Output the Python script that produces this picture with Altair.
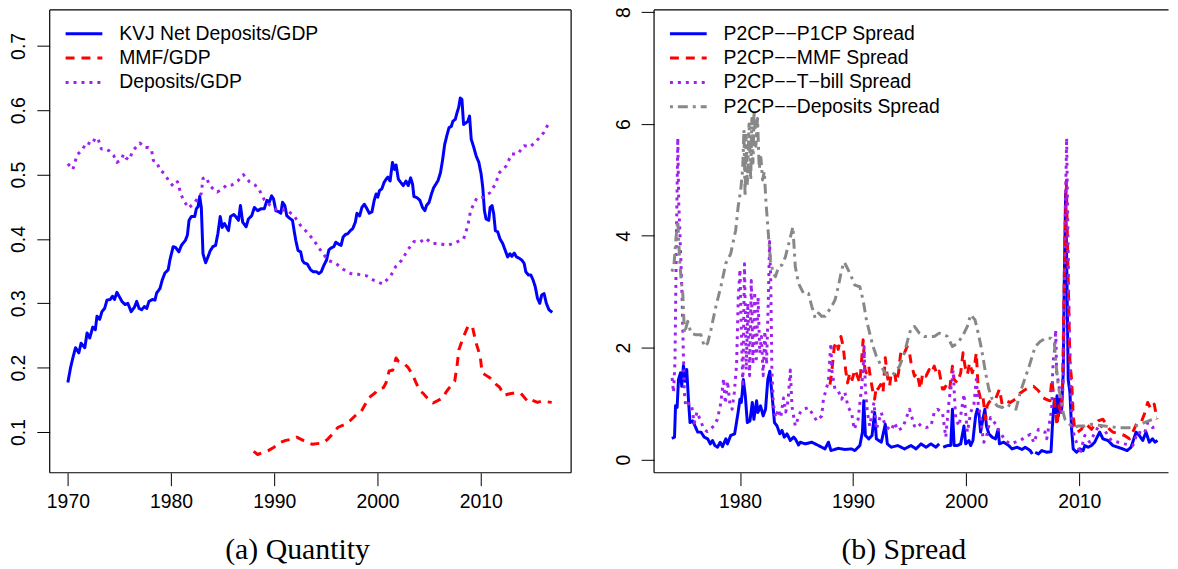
import altair as alt
import pandas as pd

# ---------------- Panel (a): Quantity ----------------
A_NAMES = ["KVJ Net Deposits/GDP", "MMF/GDP", "Deposits/GDP"]

kvj_year = [1970.0, 1970.26, 1970.48, 1970.74, 1971.06, 1971.28, 1971.64, 1971.86, 1972.12, 1972.41, 1972.66, 1972.82,
            1973.08, 1973.3, 1973.56, 1973.79, 1974.1, 1974.33, 1974.52, 1974.75, 1975.07, 1975.23, 1975.55, 1975.81,
            1976.13, 1976.45, 1976.67, 1976.9, 1977.15, 1977.41, 1977.64, 1977.86, 1978.18, 1978.44, 1978.6, 1978.92,
            1979.14, 1979.4, 1979.72, 1979.88, 1980.2, 1980.43, 1980.75, 1981.0, 1981.39, 1981.58, 1981.74, 1981.97,
            1982.29, 1982.45, 1982.61, 1982.77, 1982.93, 1983.09, 1983.35, 1983.57, 1983.8, 1984.05, 1984.31, 1984.53,
            1984.76, 1984.95, 1985.17, 1985.56, 1985.76, 1986.08, 1986.3, 1986.53, 1986.72, 1986.94, 1987.27, 1987.49,
            1987.81, 1988.07, 1988.39, 1988.71, 1989.03, 1989.29, 1989.51, 1989.74, 1989.93, 1990.15, 1990.47, 1990.63,
            1990.8, 1991.02, 1991.21, 1991.5, 1991.76, 1991.92, 1992.08, 1992.3, 1992.56, 1992.72, 1992.88, 1993.2,
            1993.52, 1993.78, 1994.1, 1994.32, 1994.55, 1994.8, 1995.06, 1995.29, 1995.51, 1995.77, 1995.96, 1996.22,
            1996.47, 1996.67, 1996.89, 1997.11, 1997.37, 1997.6, 1997.85, 1998.01, 1998.27, 1998.49, 1998.72, 1998.98,
            1999.2, 1999.46, 1999.68, 1999.87, 2000.03, 2000.19, 2000.42, 2000.64, 2000.84, 2001.0, 2001.22, 2001.45,
            2001.64, 2001.8, 2002.02, 2002.25, 2002.5, 2002.76, 2002.98, 2003.21, 2003.4, 2003.53, 2003.85, 2004.11,
            2004.36, 2004.59, 2004.75, 2005.0, 2005.23, 2005.45, 2005.65, 2005.87, 2006.1, 2006.29, 2006.51, 2006.74,
            2006.93, 2007.15, 2007.31, 2007.54, 2007.7, 2007.86, 2008.02, 2008.18, 2008.34, 2008.53, 2008.76, 2008.92,
            2009.08, 2009.3, 2009.56, 2009.82, 2010.04, 2010.2, 2010.36, 2010.52, 2010.78, 2010.91, 2011.1, 2011.26,
            2011.42, 2011.65, 2011.87, 2012.13, 2012.38, 2012.61, 2012.83, 2013.02, 2013.25, 2013.47, 2013.73, 2013.99,
            2014.21, 2014.37, 2014.63, 2014.86, 2015.08, 2015.28, 2015.5, 2015.72, 2015.91, 2016.14, 2016.36, 2016.61,
            2016.93]
kvj_val = [0.177, 0.2, 0.215, 0.231, 0.223, 0.238, 0.231, 0.254, 0.246, 0.263, 0.259, 0.28,
           0.275, 0.287, 0.292, 0.305, 0.306, 0.311, 0.306, 0.317, 0.308, 0.303, 0.298, 0.3,
           0.287, 0.294, 0.303, 0.292, 0.29, 0.295, 0.292, 0.303, 0.306, 0.305, 0.316, 0.323,
           0.336, 0.347, 0.352, 0.367, 0.388, 0.387, 0.38, 0.39, 0.398, 0.406, 0.429, 0.435,
           0.435, 0.447, 0.45, 0.466, 0.449, 0.377, 0.363, 0.372, 0.382, 0.388, 0.39, 0.408,
           0.435, 0.418, 0.424, 0.413, 0.435, 0.438, 0.434, 0.429, 0.452, 0.426, 0.419, 0.431,
           0.436, 0.449, 0.444, 0.447, 0.447, 0.46, 0.457, 0.467, 0.462, 0.444, 0.442, 0.44,
           0.457, 0.452, 0.436, 0.432, 0.429, 0.413, 0.398, 0.382, 0.38, 0.367, 0.363, 0.361,
           0.352, 0.349, 0.349, 0.346, 0.349, 0.359, 0.367, 0.383, 0.386, 0.388, 0.395, 0.392,
           0.39, 0.403, 0.407, 0.408, 0.413, 0.416, 0.426, 0.44, 0.436, 0.449, 0.454, 0.447,
           0.44, 0.442, 0.46, 0.47, 0.465, 0.475, 0.478, 0.488, 0.493, 0.496, 0.49, 0.519,
           0.508, 0.515, 0.493, 0.488, 0.483, 0.49, 0.483, 0.495, 0.485, 0.466, 0.464, 0.46,
           0.449, 0.444, 0.452, 0.457, 0.47, 0.48, 0.485, 0.491, 0.503, 0.521, 0.547, 0.562,
           0.573, 0.575, 0.583, 0.586, 0.596, 0.604, 0.619, 0.617, 0.578, 0.58, 0.583, 0.591,
           0.555, 0.544, 0.529, 0.519, 0.501, 0.48, 0.444, 0.431, 0.429, 0.449, 0.452, 0.439,
           0.413, 0.411, 0.4, 0.393, 0.382, 0.372, 0.377, 0.373, 0.378, 0.372, 0.37, 0.367,
           0.362, 0.349, 0.344, 0.344, 0.336, 0.326, 0.308, 0.3, 0.313, 0.315, 0.3, 0.29,
           0.286]

mmf_year = [1988.0, 1988.39, 1989.41, 1989.93, 1990.63, 1991.12, 1991.76, 1992.17, 1993.14, 1993.68, 1994.74,
            1995.19, 1995.93, 1996.15, 1996.99, 1997.31, 1998.01, 1998.4, 1998.91, 1999.14, 1999.78, 2000.0,
            2000.58, 2000.84, 2001.13, 2001.48, 2001.8, 2002.02, 2002.66, 2002.98, 2003.46, 2003.72, 2004.11,
            2004.43, 2005.07, 2005.39, 2006.35, 2006.61, 2007.15, 2007.48, 2007.7, 2007.89, 2008.28, 2008.76,
            2009.18, 2009.4, 2009.56, 2009.95, 2010.14, 2010.52, 2010.91, 2011.49, 2011.81, 2012.29, 2012.7,
            2013.41, 2013.89, 2014.53, 2014.76, 2015.5, 2015.91, 2016.88]
mmf_val = [0.07, 0.065, 0.071, 0.076, 0.084, 0.087, 0.089, 0.092, 0.084, 0.081, 0.083,
           0.089, 0.102, 0.107, 0.113, 0.117, 0.128, 0.131, 0.146, 0.153, 0.161, 0.166,
           0.169, 0.177, 0.195, 0.196, 0.215, 0.21, 0.205, 0.2, 0.187, 0.177, 0.164,
           0.16, 0.148, 0.145, 0.153, 0.161, 0.173, 0.179, 0.202, 0.228, 0.246, 0.264,
           0.265, 0.249, 0.238, 0.218, 0.192, 0.188, 0.184, 0.174, 0.17, 0.157, 0.159,
           0.161, 0.16, 0.148, 0.151, 0.146, 0.148, 0.146]

dep_year = [1970.0, 1970.48, 1970.9, 1971.38, 1971.8, 1972.34, 1972.66, 1972.92, 1973.24, 1973.63, 1974.01, 1974.43,
            1974.75, 1975.17, 1975.39, 1975.61, 1975.94, 1976.29, 1976.67, 1976.99, 1977.41, 1977.8, 1978.12, 1978.28,
            1978.6, 1978.92, 1979.34, 1979.72, 1980.2, 1980.62, 1980.88, 1981.16, 1981.71, 1982.35, 1982.93, 1983.09,
            1983.41, 1983.73, 1984.08, 1984.47, 1984.92, 1985.4, 1985.89, 1986.46, 1987.01, 1987.59, 1988.13, 1988.55,
            1989.03, 1989.61, 1990.25, 1991.21, 1991.92, 1992.49, 1993.2, 1993.78, 1994.42, 1995.19, 1995.96, 1996.67,
            1997.44, 1998.17, 1998.91, 1999.71, 2000.52, 2001.29, 2001.8, 2002.34, 2002.98, 2003.53, 2004.11, 2004.65,
            2005.29, 2005.94, 2006.77, 2007.64, 2008.34, 2008.76, 2009.02, 2009.63, 2010.27, 2010.91, 2011.49, 2011.74,
            2012.45, 2013.0, 2013.57, 2014.21, 2014.76, 2015.33, 2016.14, 2016.62]
dep_val = [0.517, 0.508, 0.531, 0.538, 0.55, 0.547, 0.557, 0.556, 0.54, 0.54, 0.537, 0.53,
           0.519, 0.523, 0.532, 0.526, 0.523, 0.537, 0.544, 0.549, 0.542, 0.542, 0.537, 0.522,
           0.52, 0.507, 0.502, 0.492, 0.482, 0.489, 0.474, 0.461, 0.448, 0.458, 0.471, 0.494,
           0.496, 0.483, 0.478, 0.473, 0.477, 0.484, 0.484, 0.49, 0.5, 0.489, 0.484, 0.476,
           0.461, 0.452, 0.445, 0.445, 0.436, 0.422, 0.41, 0.399, 0.384, 0.367, 0.362, 0.353,
           0.346, 0.345, 0.343, 0.335, 0.33, 0.343, 0.358, 0.367, 0.384, 0.396, 0.395, 0.401,
           0.393, 0.393, 0.39, 0.395, 0.4, 0.421, 0.444, 0.464, 0.465, 0.472, 0.487, 0.502,
           0.513, 0.532, 0.532, 0.545, 0.543, 0.551, 0.566, 0.581]

# ---------------- Panel (b): Spread ----------------
B_NAMES = ["P2CP\u2212\u2212P1CP Spread", "P2CP\u2212\u2212MMF Spread",
           "P2CP\u2212\u2212T\u2212bill Spread", "P2CP\u2212\u2212Deposits Spread"]

p1cp_year = [1973.97, 1974.21, 1974.3, 1974.44, 1974.56, 1974.74, 1974.85, 1975.0, 1975.15, 1975.29, 1975.44, 1975.58,
             1975.82, 1975.96, 1976.26, 1976.55, 1976.84, 1977.14, 1977.37, 1977.57, 1977.78, 1978.01, 1978.25, 1978.45,
             1978.75, 1978.89, 1979.18, 1979.53, 1979.83, 1980.0, 1980.12, 1980.3, 1980.47, 1980.65, 1980.88, 1981.09,
             1981.23, 1981.47, 1981.58, 1981.82, 1982.05, 1982.26, 1982.46, 1982.64, 1982.84, 1983.05, 1983.28, 1983.52,
             1983.72, 1983.92, 1984.16, 1984.45, 1984.74, 1984.89, 1985.18, 1985.33, 1985.77, 1986.35, 1986.94, 1987.52,
             1987.82, 1988.05, 1988.69, 1989.28, 1989.87, 1990.16, 1990.6, 1990.83, 1990.95, 1991.09, 1991.39, 1991.68,
             1991.91, 1992.06, 1992.5, 1992.85, 1993.03, 1993.38, 1993.96, 1994.55, 1995.13, 1995.57, 1996.01, 1996.45,
             1996.89, 1997.33, 1997.62,
             1997.97, 1998.35, 1998.64, 1998.79, 1998.94, 1999.23, 1999.52, 1999.81, 1999.96, 2000.25, 2000.4, 2000.6,
             2000.84, 2000.99, 2001.13, 2001.28, 2001.48, 2001.66, 2001.8, 2002.01, 2002.3, 2002.6, 2002.83, 2002.95,
             2003.33, 2003.77, 2004.06, 2004.5, 2004.94, 2005.23, 2005.67, 2005.85,
             2006.11, 2006.4, 2006.69, 2007.13, 2007.51, 2007.63, 2007.8, 2007.92, 2008.04, 2008.16, 2008.3, 2008.45,
             2008.59, 2008.68, 2008.8, 2008.92, 2009.03, 2009.18, 2009.33, 2009.47, 2009.77, 2010.06, 2010.35, 2010.5,
             2010.79, 2011.08, 2011.37, 2011.81, 2012.1, 2012.54, 2012.98, 2013.42, 2013.86, 2014.24, 2014.59, 2015.03,
             2015.32, 2015.62, 2015.91, 2016.2, 2016.49, 2016.7, 2016.93]
p1cp_val = [0.38, 0.4, 0.96, 0.93, 1.43, 1.55, 1.31, 1.68, 1.4, 1.61, 1.08, 0.66,
            0.69, 0.63, 0.49, 0.49, 0.4, 0.37, 0.28, 0.34, 0.25, 0.22, 0.31, 0.23,
            0.37, 0.28, 0.43, 0.46, 0.84, 1.08, 1.02, 1.43, 1.14, 0.66, 0.69, 1.02,
            0.72, 1.05, 0.84, 0.96, 0.78, 0.9, 1.43, 1.58, 1.14, 0.66, 0.6, 0.46,
            0.52, 0.4, 0.46, 0.34, 0.4, 0.37, 0.26, 0.31, 0.28, 0.31, 0.25, 0.19,
            0.31, 0.16, 0.2, 0.18, 0.19, 0.16, 0.25, 0.49, 1.05, 0.43, 0.37, 0.43,
            0.84, 0.37, 0.31, 0.63, 0.28, 0.22, 0.25, 0.19, 0.25, 0.19, 0.28, 0.22,
            0.28, 0.22, 0.28,
            0.22, 0.25, 0.25, 0.9, 0.25, 0.25, 0.28, 0.6, 0.28, 0.34, 0.25, 0.34,
            0.78, 0.9, 0.84, 0.49, 0.72, 0.9, 0.6, 0.46, 0.4, 0.37, 0.54, 0.28,
            0.31, 0.25, 0.19, 0.22, 0.18, 0.22, 0.16, 0.1,
            0.13, 0.1, 0.16, 0.13, 0.14, 0.6, 1.08, 0.84, 1.14, 0.78, 1.08, 0.9,
            1.55, 3.21, 4.75, 3.21, 1.43, 1.2, 0.54, 0.19, 0.13, 0.19, 0.16, 0.25,
            0.22, 0.25, 0.31, 0.49, 0.37, 0.34, 0.25, 0.22, 0.19, 0.16, 0.22, 0.49,
            0.43, 0.34, 0.49, 0.31, 0.37, 0.31, 0.34]
p1cp_breaks = [1997.8, 2006.0]

mmfs_year = [1987.96, 1988.11, 1988.34, 1988.55, 1988.69, 1988.93, 1989.13, 1989.28, 1989.34, 1989.51, 1989.72, 1989.92,
             1990.16, 1990.39, 1990.6, 1990.74, 1990.89, 1991.04, 1991.18, 1991.39, 1991.56, 1991.77, 1991.91, 1992.06,
             1992.21, 1992.44, 1992.65, 1992.85, 1993.03, 1993.23, 1993.38, 1993.67, 1993.82, 1994.02, 1994.2, 1994.31,
             1994.55, 1994.78, 1994.99, 1995.13, 1995.43, 1995.66, 1995.95, 1996.16, 1996.45, 1996.74, 1996.95, 1997.18,
             1997.42, 1997.62, 1997.91, 1998.06, 1998.35, 1998.56, 1998.79, 1998.94, 1999.23, 1999.52, 1999.73, 1999.9,
             2000.11, 2000.31, 2000.55, 2000.78, 2000.9, 2001.07, 2001.28, 2001.48, 2001.72, 2001.86, 2002.01, 2002.3,
             2002.6, 2002.95, 2003.18, 2003.47, 2003.91, 2004.35, 2004.64, 2005.08, 2005.46, 2005.96, 2006.4, 2006.75,
             2007.04, 2007.42, 2007.57, 2007.8, 2007.92, 2008.04, 2008.21, 2008.39, 2008.54, 2008.68, 2008.86, 2009.03,
             2009.18, 2009.33, 2009.47, 2009.62, 2009.85, 2010.2, 2010.5, 2011.08, 2011.67, 2012.1, 2012.69, 2012.98,
             2013.57, 2014.01, 2014.45, 2014.74, 2015.12, 2015.47, 2015.76, 2016.06, 2016.35, 2016.64, 2016.88]
mmfs_val = [1.34, 1.55, 2.02, 2.11, 1.97, 2.2, 2.02, 1.73, 1.61, 1.37, 1.55, 1.43,
            1.61, 1.49, 1.37, 1.73, 2.14, 1.61, 1.55, 1.67, 1.43, 1.2, 1.08, 1.31,
            1.26, 1.34, 1.2, 1.82, 1.49, 1.31, 1.55, 1.55, 1.37, 1.55, 1.88, 1.97,
            1.91, 2.02, 1.91, 1.73, 1.49, 1.55, 1.26, 1.55, 1.49, 1.61, 1.55, 1.67,
            1.52, 1.58, 1.26, 1.26, 1.37, 1.28, 1.67, 1.43, 1.37, 1.55, 1.91, 1.67,
            1.52, 1.73, 1.55, 1.73, 1.91, 1.26, 1.08, 1.14, 0.72, 0.96, 1.02, 1.08,
            1.08, 1.26, 0.99, 1.05, 1.02, 1.08, 1.17, 1.23, 1.28, 1.31, 1.23, 1.11,
            1.08, 1.05, 1.43, 1.08, 0.84, 0.6, 0.96, 0.84, 1.43, 3.21, 4.99, 3.21,
            1.73, 1.43, 0.78, 0.54, 0.49, 0.54, 0.66, 0.54, 0.69, 0.72, 0.54, 0.49,
            0.46, 0.43, 0.37, 0.49, 0.66, 0.66, 0.81, 1.02, 0.9, 0.99, 0.72]

tbill_year = [1974.0, 1974.12, 1974.25, 1974.38, 1974.5, 1974.58, 1974.68, 1974.78, 1974.88, 1974.98, 1975.08, 1975.2,
              1975.45, 1975.7, 1975.95, 1976.2, 1976.5, 1976.8, 1977.1, 1977.4, 1977.7, 1978.0, 1978.3, 1978.55,
              1978.7, 1978.9, 1979.1, 1979.3, 1979.5, 1979.7, 1979.85, 1980.0, 1980.12, 1980.25, 1980.4, 1980.55,
              1980.7, 1980.85, 1981.0, 1981.15, 1981.3, 1981.45, 1981.6, 1981.75, 1981.9, 1982.05, 1982.2, 1982.35,
              1982.5, 1982.62, 1982.72, 1982.82, 1982.95, 1983.15, 1983.4, 1983.6, 1983.85, 1984.05, 1984.25, 1984.45,
              1984.6, 1984.89, 1985.33, 1985.62, 1986.06, 1986.79, 1987.23, 1987.38, 1987.82, 1987.96, 1988.05, 1988.11,
              1988.4, 1988.69, 1988.99, 1989.28, 1989.57, 1989.87, 1990.1, 1990.45, 1990.74, 1990.89, 1990.98, 1991.09,
              1991.27, 1991.47, 1991.85, 1992.06, 1992.5, 1992.85, 1993.38, 1993.67, 1993.96, 1994.4, 1994.99, 1995.43,
              1995.72, 1996.01, 1996.45, 1996.89, 1997.18, 1997.47, 1997.91, 1998.2, 1998.5, 1998.73, 1998.85, 1999.08,
              1999.38, 1999.81, 2000.11, 2000.4, 2000.69, 2000.9, 2001.07, 2001.28, 2001.42, 2001.57, 2001.86, 2002.16,
              2002.74, 2002.89, 2003.47, 2003.91, 2004.35, 2004.79, 2005.23, 2005.67, 2006.0, 2006.4, 2006.98, 2007.13,
              2007.57, 2007.65, 2007.72, 2007.86, 2007.92, 2008.01, 2008.15, 2008.3, 2008.45, 2008.59, 2008.68, 2008.77,
              2008.89, 2008.98, 2009.09, 2009.24, 2009.38, 2009.62, 2009.91, 2010.06, 2010.5, 2010.93, 2011.81, 2012.25,
              2012.84, 2014.01, 2014.74, 2015.18, 2015.76, 2016.06, 2016.49, 2016.79]
tbill_val = [1.46, 1.2, 1.75, 4.0, 5.75, 4.6, 4.1, 3.5, 2.9, 2.0, 1.2, 0.95,
             1.0, 1.0, 0.65, 0.85, 0.7, 0.55, 0.5, 0.55, 0.6, 0.72, 1.0, 1.45,
             1.0, 1.4, 1.0, 0.9, 1.2, 1.7, 2.9, 3.4, 2.3, 1.3, 3.5, 1.6,
             2.8, 1.5, 3.2, 1.7, 3.0, 1.8, 2.9, 1.9, 2.2, 1.5, 2.3, 1.7,
             2.8, 3.9, 3.2, 1.6, 1.0, 0.75, 0.9, 0.75, 1.1, 0.85, 1.05, 1.6,
             0.95, 0.6, 0.84, 0.9, 0.93, 0.69, 0.78, 1.08, 1.4, 1.85, 2.08, 1.61,
             1.26, 1.23, 1.08, 1.2, 0.93, 0.84, 0.54, 0.72, 1.26, 1.61, 2.02, 1.26,
             0.84, 0.6, 1.02, 0.54, 0.84, 0.6, 0.52, 0.66, 0.52, 0.57, 0.9, 0.6,
             0.66, 0.6, 0.57, 0.6, 0.84, 0.9, 0.84, 0.4, 1.08, 1.37, 1.6, 0.72,
             0.6, 1.17, 0.49, 0.84, 0.99, 1.43, 0.99, 0.78, 0.49, 0.31, 0.46, 0.75,
             0.6, 0.52, 0.34, 0.28, 0.31, 0.34, 0.4, 0.45, 0.3, 0.54, 0.49, 0.37,
             0.9, 1.55, 1.79, 2.02, 2.32, 1.55, 1.4, 1.2, 0.84, 1.43, 2.62, 4.39,
             5.75, 4.4, 2.62, 1.43, 0.6, 0.37, 0.25, 0.1, 0.43, 0.31, 0.63, 0.52,
             0.34, 0.28, 0.25, 0.49, 0.46, 0.66, 0.57, 0.6]

deps_year = [1973.97, 1974.15, 1974.35, 1974.5, 1974.65, 1974.8, 1974.94, 1975.09, 1975.38, 1975.67, 1976.11, 1976.55,
             1976.84, 1977.14, 1977.43, 1977.87, 1978.31, 1978.75, 1979.18, 1979.62, 1979.83, 1980.06, 1980.24, 1980.35,
             1980.45, 1980.55, 1980.65, 1980.8, 1980.95, 1981.05, 1981.15, 1981.25, 1981.4, 1981.55, 1981.7, 1981.85,
             1982.0, 1982.15, 1982.3, 1982.45, 1982.55, 1982.7, 1982.93, 1983.13, 1983.43, 1983.72, 1984.01, 1984.39,
             1984.68, 1984.89, 1985.18, 1985.62, 1986.06, 1986.35, 1986.65, 1986.94, 1987.23, 1987.52, 1987.82, 1988.11,
             1988.4, 1988.69, 1988.99, 1989.22, 1989.43, 1989.72, 1990.16, 1990.6, 1990.89, 1991.18, 1991.47, 1991.77,
             1992.06, 1992.35, 1992.65, 1992.94, 1993.38, 1993.67, 1994.11, 1994.55, 1994.84, 1995.13, 1995.43, 1995.86,
             1996.3, 1996.74, 1997.18, 1997.62, 1998.06, 1998.35, 1998.79, 1999.23, 1999.67, 2000.11, 2000.4, 2000.78,
             2001.07, 2001.37, 2001.72, 2002.01, 2002.3, 2002.74, 2003.18, 2003.62, 2004.06, 2004.41, 2004.79, 2005.17,
             2005.58, 2006.11, 2006.55, 2007.04, 2007.51, 2007.8, 2008.0, 2008.15, 2008.39, 2008.59, 2008.74, 2009.2,
             2009.62, 2009.91, 2010.5, 2011.08, 2012.25, 2013.42, 2014.59, 2015.76, 2016.88]
deps_val = [3.36, 3.45, 3.98, 4.27, 3.62, 3.21, 2.97, 2.26, 2.47, 2.26, 2.23, 2.23,
            2.02, 2.08, 2.32, 2.74, 3.09, 3.51, 3.68, 4.1, 4.51, 4.81, 5.2, 5.9,
            4.7, 5.8, 4.9, 6.0, 5.0, 6.1, 5.3, 6.25, 5.6, 6.1, 5.2, 5.4,
            5.0, 5.15, 4.6, 4.2, 3.92, 3.56, 3.33, 3.27, 3.45, 3.48, 3.62, 3.92,
            4.16, 3.45, 3.15, 2.97, 2.97, 2.74, 2.53, 2.62, 2.56, 2.56, 2.65, 2.74,
            2.85, 3.09, 3.39, 3.53, 3.45, 3.33, 3.12, 3.09, 2.85, 2.5, 2.26, 2.02,
            1.85, 1.73, 1.61, 1.52, 1.49, 1.55, 1.67, 1.91, 2.14, 2.35, 2.38, 2.26,
            2.2, 2.2, 2.2, 2.26, 2.23, 2.2, 2.02, 2.08, 2.2, 2.38, 2.59, 2.5,
            2.26, 1.97, 1.55, 1.26, 1.08, 0.96, 0.93, 0.99, 0.93, 0.9, 1.2, 1.43,
            1.67, 2.02, 2.11, 2.17, 2.17, 2.08, 1.61, 1.31, 1.08, 0.84, 0.72, 0.62,
            0.57, 0.6, 0.6, 0.63, 0.6, 0.57, 0.57, 0.66, 0.75]

# ---------------- styling ----------------
COL_A = ["#0000FF", "#FF0000", "#A020F0"]
COL_B = ["#0000FF", "#FF0000", "#A020F0", "#888888"]
DASH_A = [[1, 0], [9, 7], [3, 5]]
DASH_B = [[1, 0], [9, 7], [3, 5], [3, 5, 10, 5]]

SANS = "Liberation Sans"
SERIF = "Liberation Serif"
FS = 19.5

W1, H = 525, 466
W2 = 518


def series_frame(name, years, vals, breaks=()):
    assert len(years) == len(vals), (name, len(years), len(vals))
    seg = [sum(1 for b in breaks if y > b) for y in years]
    return pd.DataFrame({"year": years, "value": vals, "series": name, "seg": seg})


df_a = pd.concat([
    series_frame(A_NAMES[0], kvj_year, kvj_val),
    series_frame(A_NAMES[1], mmf_year, mmf_val),
    series_frame(A_NAMES[2], dep_year, dep_val),
])
df_b = pd.concat([
    series_frame(B_NAMES[0], p1cp_year, p1cp_val, p1cp_breaks),
    series_frame(B_NAMES[1], mmfs_year, mmfs_val),
    series_frame(B_NAMES[2], tbill_year, tbill_val),
    series_frame(B_NAMES[3], deps_year, deps_val),
])


def make_panel(df, names, colors, dashes, xdom, xticks, ydom, yticks, yfmt, caption, cap_x, width, full_box):
    color = alt.Color("series:N", scale=alt.Scale(domain=names, range=colors), legend=None)
    dash = alt.StrokeDash("series:N", scale=alt.Scale(domain=names, range=dashes), legend=None)
    x = alt.X("year:Q", scale=alt.Scale(domain=xdom, nice=False, zero=False),
              axis=alt.Axis(values=xticks, format="d", tickSize=13, tickColor="black", tickWidth=1,
                            domain=False, grid=False, labelFont=SANS, labelFontSize=FS, labelColor="black",
                            labelPadding=7, title=caption, titleFont=SERIF, titleFontSize=30,
                            titleFontWeight="normal", titleColor="black", titleX=cap_x, titleY=77,
                            titleAlign="center", titleBaseline="middle"))
    y = alt.Y("value:Q", scale=alt.Scale(domain=ydom, nice=False, zero=False),
              axis=alt.Axis(values=yticks, format=yfmt, tickSize=13, tickColor="black", tickWidth=1,
                            domain=False, grid=False, labelFont=SANS, labelFontSize=FS, labelColor="black",
                            labelAngle=270, labelPadding=8, title=None, minExtent=41, maxExtent=41))
    layers = []
    for name in names:
        layers.append(
            alt.Chart(df).transform_filter(alt.datum.series == name)
            .mark_line(strokeWidth=3, strokeJoin="round", clip=True)
            .encode(x=x, y=y, color=color, strokeDash=dash, detail="seg:N", order="year:Q")
        )
    # legend (top-left, inside)
    for i, name in enumerate(names):
        row_y = 24 + 24.5 * i
        ldf = pd.DataFrame({"series": [name]})
        layers.append(alt.Chart(ldf).mark_rule(strokeWidth=3).encode(
            x=alt.value(16), x2=alt.value(53), y=alt.value(row_y), color=color, strokeDash=dash))
        layers.append(alt.Chart(ldf).mark_text(align="left", baseline="middle", font=SANS, fontSize=FS,
                                               color="black").encode(
            x=alt.value(70), y=alt.value(row_y), text="series:N"))
    # frame
    fdf = pd.DataFrame({"k": [0]})
    frame = [
        alt.Chart(fdf).mark_rule(color="black", strokeWidth=1.2).encode(x=alt.value(0), x2=alt.value(width), y=alt.value(0)),
        alt.Chart(fdf).mark_rule(color="black", strokeWidth=1.2).encode(x=alt.value(0), x2=alt.value(width), y=alt.value(H)),
        alt.Chart(fdf).mark_rule(color="black", strokeWidth=1.2).encode(x=alt.value(0), y=alt.value(0), y2=alt.value(H)),
    ]
    if full_box:
        frame.append(alt.Chart(fdf).mark_rule(color="black", strokeWidth=1.2).encode(
            x=alt.value(width), y=alt.value(0), y2=alt.value(H)))
    return alt.layer(*layers, *frame).properties(width=width, height=H)


left = make_panel(df_a, A_NAMES, COL_A, DASH_A, [1968.24, 2018.76], [1970, 1980, 1990, 2000, 2010],
                  [0.0367, 0.756], [0.1, 0.2, 0.3, 0.4, 0.5, 0.6, 0.7], ".1f", "(a) Quantity", 249, W1, True)
right = make_panel(df_b, B_NAMES, COL_B, DASH_B, [1972.4, 2017.9], [1980, 1990, 2000, 2010],
                   [-0.236, 8.04], [0, 2, 4, 6, 8], "d", "(b) Spread", 251, W2, False)

chart = alt.hconcat(left, right, spacing=83.5, bounds="flush").resolve_scale(
    color="independent", strokeDash="independent", x="independent", y="independent"
).properties(padding={"top": -4, "left": 0, "right": 0, "bottom": 0}, background="white").configure_view(stroke=None)

chart.save("out.html", embed_options={"renderer": "svg", "actions": False})
